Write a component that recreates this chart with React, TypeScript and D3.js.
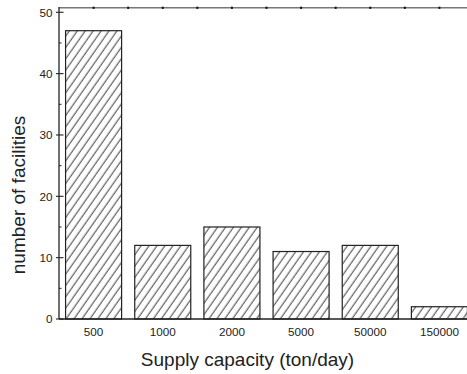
import * as d3 from "d3";

const categories = ["500", "1000", "2000", "5000", "50000", "150000"];
const counts = [47, 12, 15, 11, 12, 2];
const yTicks = [0, 10, 20, 30, 40, 50];
const yMinorTicks = [5, 15, 25, 35, 45];

const width = 467;
const height = 374;
const marginLeft = 59;
const marginTop = 7.7;
const marginBottom = 55;
const font = "Arial, 'Liberation Sans', Helvetica, sans-serif";

export default function App() {
    const x = d3
        .scaleBand<string>()
        .domain(categories)
        .range([marginLeft, 474])
        .paddingInner(0.19)
        .paddingOuter(0.095);
    const y = d3.scaleLinear([0, 50], [height - marginBottom, 12.3]);
    const yTop = y(50.75);
    const yBase = y(0);
    const step = x.step();
    // top frame tick positions: bar centres and gaps between bars
    const topTicks = d3.range(0, categories.length * 2).map((i) => x(categories[0])! - x.paddingOuter() * step + step / 2 + (i * step) / 2 - step / 2 + step / 2);

    return (
        <svg width={width} height={height} style={{ position: "absolute", left: 0, top: 0, background: "#fff" }} fontFamily={font}>
            <defs>
                <pattern id="hatch" patternUnits="userSpaceOnUse" width={6.5} height={12} patternTransform="rotate(35)">
                    <line x1={3} y1={0} x2={3} y2={12} stroke="#222" strokeWidth={0.9} />
                </pattern>
            </defs>

            {/* top frame */}
            <line x1={marginLeft} x2={width} y1={yTop} y2={yTop} stroke="#777" strokeWidth={1.6} />
            {topTicks.map((t, i) => (
                <rect key={i} x={t - 1} y={yTop - 1} width={2} height={2.2} fill="#111" />
            ))}

            {/* bars */}
            {counts.map((d, i) => (
                <rect
                    key={i}
                    x={x(categories[i])}
                    y={y(d)}
                    width={x.bandwidth()}
                    height={yBase - y(d)}
                    fill="url(#hatch)"
                    stroke="#222"
                    strokeWidth={1.2}
                />
            ))}

            {/* left axis */}
            <line x1={marginLeft} x2={marginLeft} y1={yTop - 0.8} y2={yBase} stroke="#222" strokeWidth={1.3} />
            {yTicks.map((t) => (
                <g key={t}>
                    <line x1={marginLeft - 3} x2={marginLeft + 4.5} y1={y(t)} y2={y(t)} stroke="#222" strokeWidth={1.1} />
                    <text x={52.5} y={y(t)} dy="0.36em" textAnchor="end" fontSize={11.7} fill="#222">
                        {t}
                    </text>
                </g>
            ))}
            {yMinorTicks.map((t) => (
                <line key={t} x1={marginLeft} x2={marginLeft + 2.5} y1={y(t)} y2={y(t)} stroke="#222" strokeWidth={1} />
            ))}

            {/* bottom axis */}
            <line x1={marginLeft} x2={width} y1={yBase} y2={yBase} stroke="#222" strokeWidth={1.3} />
            {categories.map((c) => (
                <text key={c} x={x(c)! + x.bandwidth() / 2} y={335.5} textAnchor="middle" fontSize={11.7} fill="#222">
                    {c}
                </text>
            ))}

            {/* axis titles */}
            <text x={247.5} y={366} textAnchor="middle" fontSize={19} fill="#222">
                Supply capacity (ton/day)
            </text>
            <text transform="translate(24.5,195) rotate(-90)" textAnchor="middle" fontSize={19} fill="#222">
                number of facilities
            </text>
        </svg>
    );
}
